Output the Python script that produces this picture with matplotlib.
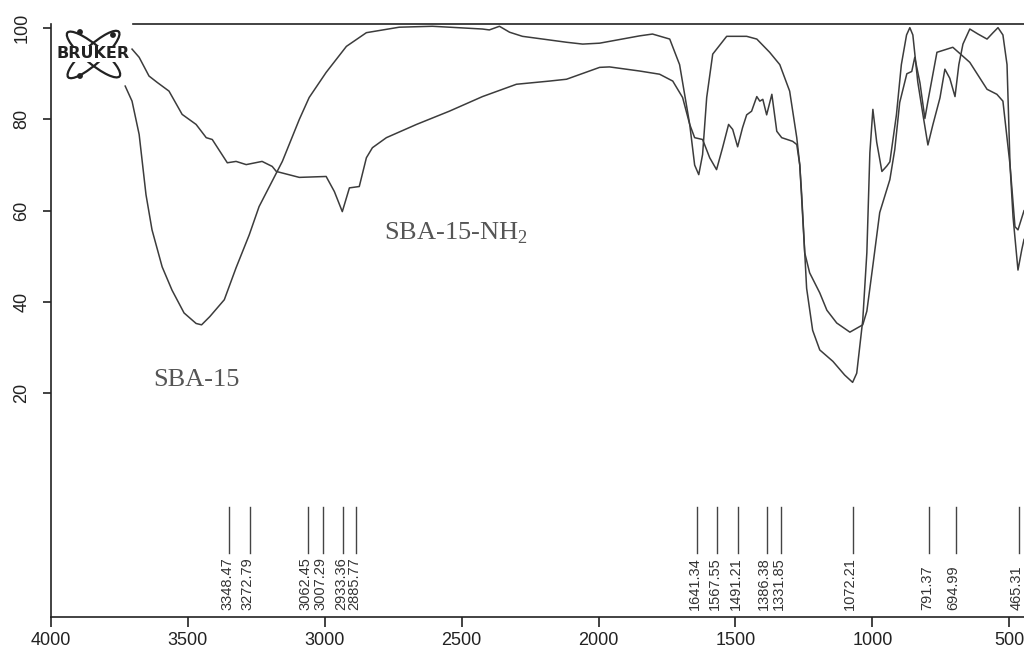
import matplotlib.pyplot as plt
from matplotlib.patches import Ellipse, Circle

# wavenumbers (cm-1) and transmittance (%)
sba15_wn = [3729, 3704, 3678, 3653, 3631, 3594, 3558, 3514, 3470, 3450, 3420, 3367,
            3324, 3276, 3240, 3155, 3093, 3057, 2995, 2921, 2848, 2728, 2607,
            2545, 2424, 2399, 2362, 2325, 2278, 2117, 2058, 1996, 1850, 1803, 1740,
            1704, 1667, 1649, 1634, 1620, 1605, 1583, 1532, 1459, 1422, 1375, 1338,
            1302, 1276, 1265, 1258, 1240, 1218, 1192, 1144, 1101, 1072, 1057, 1035,
            1020, 1009, 998, 984, 965, 947, 936, 912, 894, 875, 863, 852, 834, 815,
            797, 779, 753, 735, 717, 698, 684, 669, 644, 614, 581, 559, 541, 523,
            508, 497, 486, 468, 454, 446]
sba15_t = [87.3, 84.0, 76.7, 63.5, 55.8, 47.7, 42.6, 37.6, 35.3, 35.0, 36.8, 40.5,
           47.5, 54.7, 60.9, 70.8, 80.0, 84.8, 90.3, 96.0, 99.0, 100.2, 100.4,
           100.2, 99.8, 99.6, 100.4, 99.1, 98.2, 96.9, 96.5, 96.7, 98.3, 98.7, 97.6,
           92.0, 78.9, 70.0, 67.9, 72.3, 84.8, 94.3, 98.2, 98.2, 97.6, 94.7, 92.0,
           86.2, 76.0, 70.0, 63.5, 43.0, 33.8, 29.5, 27.0, 24.0, 22.4, 24.4, 36.0,
           50.8, 72.7, 82.2, 75.0, 68.6, 69.8, 70.7, 81.0, 92.0, 98.5, 100.1, 98.5,
           88.2, 81.0, 74.4, 78.8, 84.7, 91.0, 89.0, 85.0, 92.0, 96.5, 99.8, 98.7,
           97.6, 99.0, 100.1, 98.5, 92.0, 70.0, 58.6, 47.0, 51.5, 53.7]

nh2_wn = [3704, 3678, 3642, 3612, 3569, 3521, 3470, 3433, 3411, 3356, 3324, 3287,
          3229, 3192, 3177, 3093, 2995, 2965, 2936, 2910, 2874, 2848, 2826, 2775,
          2665, 2545, 2424, 2300, 2179, 2117, 1996, 1960, 1850, 1777, 1729, 1693,
          1667, 1649, 1620, 1594, 1569, 1547, 1525, 1510, 1492, 1474, 1459, 1441,
          1422, 1411, 1400, 1386, 1367, 1349, 1331, 1291, 1276, 1265, 1247, 1229,
          1192, 1166, 1130, 1082, 1035, 1020, 998, 973, 936, 918, 900, 874, 856,
          845, 826, 808, 797, 764, 706, 644, 581, 545, 523, 497, 479, 468, 446]
nh2_t = [95.4, 93.6, 89.5, 88.1, 86.2, 81.1, 78.9, 76.0, 75.6, 70.5, 70.8, 70.1,
         70.8, 69.7, 68.6, 67.3, 67.5, 64.2, 59.8, 65.0, 65.3, 71.6, 73.8, 76.0,
         78.9, 81.8, 85.0, 87.7, 88.4, 88.8, 91.4, 91.5, 90.6, 89.9, 88.4, 84.8,
         78.9, 76.0, 75.6, 71.6, 69.0, 73.8, 78.9, 77.8, 74.0, 78.2, 81.0, 81.8,
         85.0, 84.0, 84.4, 81.0, 85.5, 77.4, 76.0, 75.2, 74.5, 70.0, 50.8, 46.4,
         42.0, 38.2, 35.4, 33.4, 35.0, 38.0, 48.0, 59.6, 66.8, 73.4, 83.7, 90.0,
         90.5, 93.6, 88.0, 80.2, 84.0, 94.7, 95.8, 92.5, 86.6, 85.5, 84.0, 70.0,
         56.5, 55.8, 60.0]

peaks = [3348.47, 3272.79, 3062.45, 3007.29, 2933.36, 2885.77, 1641.34, 1567.55,
         1491.21, 1386.38, 1331.85, 1072.21, 791.37, 694.99, 465.31]

line_col = "#3c3c3c"

fig = plt.figure(figsize=(10.24, 6.56), dpi=100)
ax = fig.add_axes([51 / 1024, 39 / 656, 1 - 51 / 1024, 593 / 656])

ax.plot(sba15_wn, sba15_t, color=line_col, lw=1.1)
ax.plot(nh2_wn, nh2_t, color=line_col, lw=1.1)

# peak markers
for p in peaks:
    ax.plot([p, p], [-4.9, -15.0], color="#444444", lw=1.0)
    ax.text(p + 8, -27.5, f"{p:.2f}", rotation=90, ha="center", va="bottom",
            fontsize=10.5, color="#333333", family="Liberation Sans")

ax.text(3625, 21.5, "SBA-15", fontsize=19, color="#555555", family="Liberation Serif")
ax.text(2782, 53.6, r"SBA-15-NH$_{\mathregular{2}}$", fontsize=19, color="#555555",
        family="Liberation Serif")

ax.set_xlim(4000, 446)
ax.set_ylim(-29.0, 100.9)
ax.set_xticks([4000, 3500, 3000, 2500, 2000, 1500, 1000, 500])
ax.set_yticks([20, 40, 60, 80, 100])

ax.spines["right"].set_visible(False)
ax.spines["top"].set_bounds(3700, 446)
for s in ["left", "bottom", "top"]:
    ax.spines[s].set_linewidth(1.2)
    ax.spines[s].set_color("#222222")

ax.tick_params(axis="x", length=7, width=1.2, pad=4, labelsize=13,
               color="#222222", labelcolor="#222222")
ax.tick_params(axis="y", length=6, width=1.2, pad=9, labelsize=13,
               color="#222222", labelcolor="#222222", labelrotation=90)
for lab in ax.get_yticklabels() + ax.get_xticklabels():
    lab.set_family("Liberation Sans")
for lab in ax.get_yticklabels():
    lab.set_va("center")

# Bruker logo
lg = fig.add_axes([53 / 1024, (656 - 80) / 656, 80 / 1024, 54 / 656])
lg.set_xlim(0, 80)
lg.set_ylim(0, 54)
lg.axis("off")
lg.add_patch(Ellipse((40.5, 25.5), 68, 18, angle=-40, fill=False, lw=1.6, color="#222222"))
lg.add_patch(Ellipse((40.5, 25.5), 68, 18, angle=42, fill=False, lw=1.6, color="#222222"))
for cx, cy in [(27, 48), (27, 4), (60, 45)]:
    lg.add_patch(Circle((cx, cy), 2.2, color="#222222"))
lg.text(40, 26, "BRUKER", ha="center", va="center", fontsize=11.5, fontweight="bold",
        color="#222222", family="DejaVu Sans",
        bbox=dict(facecolor="white", edgecolor="none", pad=0.5))

fig.savefig("out.png", dpi=100)
